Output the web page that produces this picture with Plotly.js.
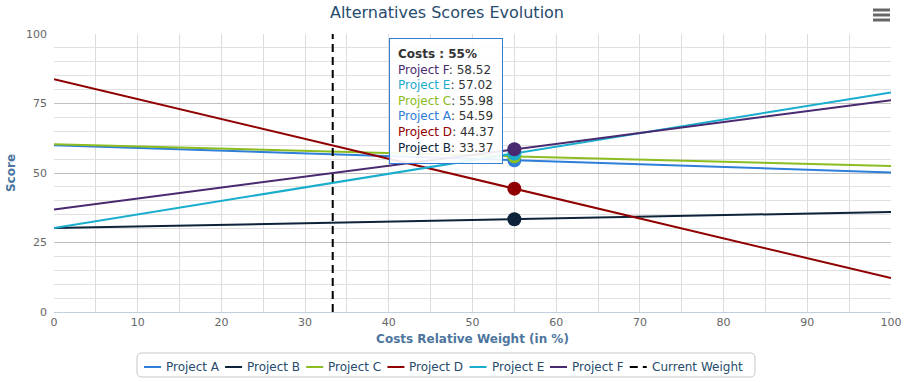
<!DOCTYPE html>
<html>
<head>
<meta charset="utf-8">
<script src="https://cdn.plot.ly/plotly-3.0.1.min.js"></script>
<style>html,body{margin:0;padding:0;background:#fff;}#chart{width:907px;height:382px;}</style>
</head>
<body>
<div id="chart"></div>
<script>
// Data
const weights = [0, 55, 100];
const projectNames = ["Project A", "Project B", "Project C", "Project D", "Project E", "Project F"];
const projA = [60.0, 54.59, 50.2];
const projB = [30.2, 33.37, 36.0];
const projC = [60.3, 55.98, 52.5];
const projD = [83.7, 44.37, 12.2];
const projE = [30.2, 57.02, 79.0];
const projF = [36.9, 58.52, 76.2];
const currentWeight = 33.3;
const currentName = "Current Weight";
const hoverIndex = 1; // weight 55
const colors = ["#2f7ed8", "#0d233a", "#8bbc21", "#910000", "#1aadce", "#492970"];

const series = [projA, projB, projC, projD, projE, projF];
const font = "DejaVu Sans, Verdana, sans-serif";

const traces = [];
series.forEach((s, i) => {
  traces.push({
    x: weights, y: s, type: "scatter", mode: "lines", name: projectNames[i],
    line: {color: colors[i], width: 2}, hoverinfo: "skip", showlegend: false
  });
});
traces.push({
  x: [currentWeight, currentWeight], y: [0, 100], type: "scatter", mode: "lines",
  name: currentName, line: {color: "#000", width: 2, dash: "8px,5px"}, hoverinfo: "skip", showlegend: false
});
// hover markers at weight 55 (drawn in order so F on top)
const markerOrder = [1, 3, 0, 2, 4, 5];
markerOrder.forEach(i => {
  traces.push({
    x: [weights[hoverIndex]], y: [series[i][hoverIndex]], type: "scatter", mode: "markers",
    marker: {color: colors[i], size: 14}, showlegend: false, hoverinfo: "skip"
  });
});

// tooltip text, sorted descending
const idx = [0,1,2,3,4,5].sort((a, b) => series[b][hoverIndex] - series[a][hoverIndex]);
let tip = "<b>Costs : " + weights[hoverIndex] + "%</b>";
idx.forEach(i => {
  tip += "<br><span style='color:" + colors[i] + "'>" + projectNames[i] + "</span>: " + series[i][hoverIndex].toFixed(2);
});

// plot area geometry (pixels) for decorative shapes
const PL = 54, PR = 891, PT = 34, PB = 312;
const px = v => (v - PL) / (PR - PL);
const py = v => (PB - v) / (PB - PT);
function roundRect(x0, y0, x1, y1, r) {
  const P = (a, b) => px(a).toFixed(5) + "," + py(b).toFixed(5);
  return "M" + P(x0 + r, y0) + " L" + P(x1 - r, y0) + " Q" + P(x1, y0) + " " + P(x1, y0 + r) +
         " L" + P(x1, y1 - r) + " Q" + P(x1, y1) + " " + P(x1 - r, y1) +
         " L" + P(x0 + r, y1) + " Q" + P(x0, y1) + " " + P(x0, y1 - r) +
         " L" + P(x0, y0 + r) + " Q" + P(x0, y0) + " " + P(x0 + r, y0) + " Z";
}

const shapes = [
  {type: "path", xref: "paper", yref: "paper", path: roundRect(137, 353, 755, 377, 5),
   line: {color: "#c8c8c8", width: 1}, fillcolor: "rgba(0,0,0,0)", layer: "below"},
  {type: "line", xref: "paper", yref: "paper", x0: px(873), x1: px(890), y0: py(10), y1: py(10), line: {color: "#666", width: 3}},
  {type: "line", xref: "paper", yref: "paper", x0: px(873), x1: px(890), y0: py(15), y1: py(15), line: {color: "#666", width: 3}},
  {type: "line", xref: "paper", yref: "paper", x0: px(873), x1: px(890), y0: py(20), y1: py(20), line: {color: "#666", width: 3}}
];
const annotations = [{
  xref: "x", yref: "y", x: 40.0, y: 98.6, xanchor: "left", yanchor: "top",
  text: tip, showarrow: false, align: "left",
  font: {family: font, size: 12, color: "#333"},
  bgcolor: "rgba(255,255,255,0.9)", bordercolor: "#2f7ed8", borderwidth: 1, borderpad: 8
}];

// custom legend (Highcharts-like compact layout)
const ctx = document.createElement("canvas").getContext("2d");
ctx.font = "12px 'DejaVu Sans'";
const legendItems = projectNames.map((n, i) => ({name: n, color: colors[i], dash: "solid"}))
  .concat([{name: currentName, color: "#000", dash: "8px,5px"}]);
let lx = 144;
const ly = 367;
legendItems.forEach(it => {
  shapes.push({type: "line", xref: "paper", yref: "paper", x0: px(lx), x1: px(lx + 17), y0: py(ly), y1: py(ly),
               line: {color: it.color, width: 2, dash: it.dash}});
  annotations.push({xref: "paper", yref: "paper", x: px(lx + 20), y: py(ly), xanchor: "left", yanchor: "middle",
                    text: it.name, showarrow: false, font: {family: font, size: 12, color: "#274b6d"}});
  lx += 21 + ctx.measureText(it.name).width + 7;
});

const layout = {
  width: 907, height: 382,
  margin: {l: PL, r: 907 - PR, t: PT, b: 382 - PB, autoexpand: false},
  paper_bgcolor: "#fff", plot_bgcolor: "#fff",
  font: {family: font, color: "#666", size: 11},
  title: {text: "Alternatives Scores Evolution", font: {family: font, size: 16, color: "#274b6d"},
          x: 447 / 907, xanchor: "center", xref: "container", y: 0.968, yanchor: "middle", yref: "container"},
  xaxis: {
    range: [0, 100], dtick: 10, tick0: 0, showgrid: true, gridcolor: "#dcdcdc", gridwidth: 1,
    minor: {dtick: 5, showgrid: true, gridcolor: "#dcdcdc", gridwidth: 1},
    zeroline: false, showline: true, linecolor: "#c0d0e0", linewidth: 1,
    ticks: "", ticklabelstandoff: 0, automargin: false,
    tickfont: {family: font, size: 11, color: "#666"},
    title: {text: "<b>Costs Relative Weight (in %)</b>", font: {family: font, size: 12, color: "#4d759e"}, standoff: 6},
    fixedrange: true
  },
  yaxis: {
    range: [0, 100], dtick: 25, tick0: 0, showgrid: true, gridcolor: "#c0c0c0", gridwidth: 1,
    minor: {dtick: 5, showgrid: true, gridcolor: "#e0e0e0", gridwidth: 1},
    zeroline: false, showline: false, ticks: "", ticklabelstandoff: 6, automargin: false,
    tickfont: {family: font, size: 11, color: "#666"},
    title: {text: "<b>Score</b>", font: {family: font, size: 12, color: "#4d759e"}, standoff: 7},
    fixedrange: true
  },
  showlegend: false,
  annotations: annotations,
  shapes: shapes
};

Plotly.newPlot("chart", traces, layout, {displayModeBar: false, staticPlot: true});
</script>
</body>
</html>
